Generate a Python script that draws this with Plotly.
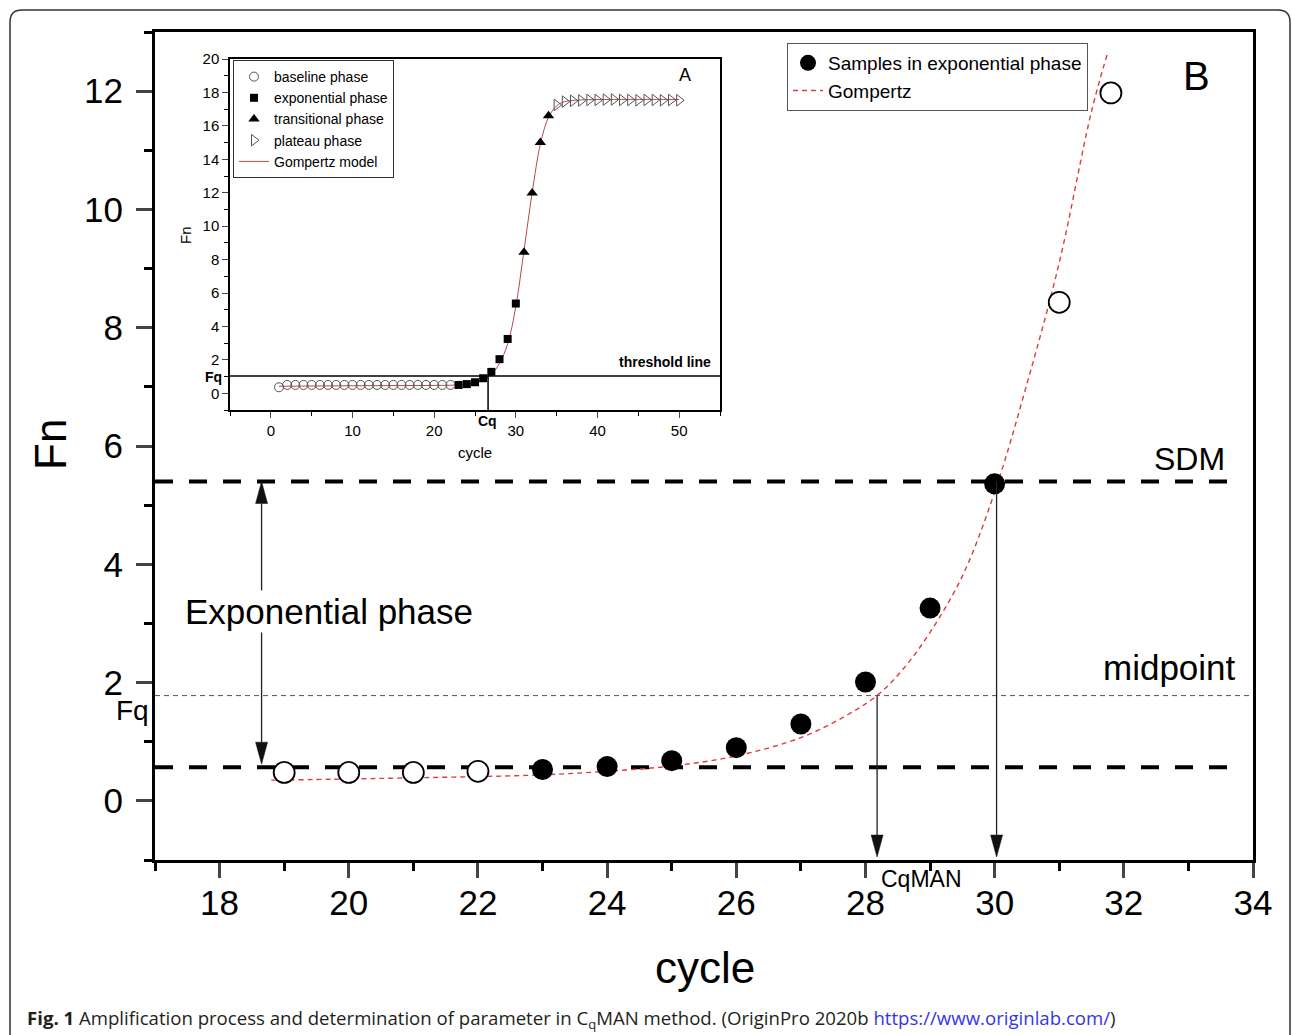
import plotly.graph_objects as go

W, H = 1292, 1035

# ---------------- main panel (B) data ----------------
base_x = [19, 20, 21, 22]
base_y = [0.48, 0.48, 0.48, 0.50]
exp_x = [23, 24, 25, 26, 27, 28, 29, 30]
exp_y = [0.53, 0.58, 0.68, 0.90, 1.30, 2.01, 3.26, 5.36]
late_x = [31, 31.8]
late_y = [8.43, 11.97]
gomp_x = [18.8, 20, 21, 22, 23, 24, 25, 26, 27, 27.7, 28.2, 28.6, 29.0, 29.5, 30.0, 30.5, 31.0, 31.5, 31.75]
gomp_y = [0.35, 0.37, 0.39, 0.41, 0.44, 0.50, 0.59, 0.76, 1.07, 1.44, 1.80, 2.25, 2.85, 3.8, 5.22, 7.05, 9.1, 11.66, 12.65]

SDM_LEVEL = 5.40
BASE_LEVEL = 0.57
MID_LEVEL = 1.78
CQMAN = 28.18
CYCLE_SDM = 30.03
EXP_ARROW_X = 18.65

main_xticks = [18, 20, 22, 24, 26, 28, 30, 32, 34]
main_xminor = [17, 19, 21, 23, 25, 27, 29, 31, 33]
main_yticks = [0, 2, 4, 6, 8, 10, 12]
main_yminor = [-1, 1, 3, 5, 7, 9, 11, 13]

# ---------------- inset panel (A) data ----------------
in_base_x = [1, 2, 3, 4, 5, 6, 7, 8, 9, 10, 11, 12, 13, 14, 15, 16, 17, 18, 19, 20, 21, 22]
in_base_y = [0.36, 0.50, 0.50, 0.50, 0.50, 0.50, 0.50, 0.50, 0.50, 0.50, 0.50,
             0.50, 0.50, 0.50, 0.50, 0.50, 0.50, 0.50, 0.50, 0.50, 0.50, 0.50]
in_exp_x = [23, 24, 25, 26, 27, 28, 29, 30]
in_exp_y = [0.50, 0.55, 0.66, 0.90, 1.28, 2.04, 3.25, 5.37]
in_tr_x = [31, 32, 33, 34]
in_tr_y = [8.44, 11.98, 15.0, 16.6]
in_pl_x = [35, 36, 37, 38, 39, 40, 41, 42, 43, 44, 45, 46, 47, 48, 49, 50]
in_pl_y = [17.25, 17.45, 17.50, 17.52, 17.55, 17.55, 17.57, 17.58, 17.55, 17.55,
           17.53, 17.55, 17.55, 17.53, 17.55, 17.53]
in_gomp_x = [1, 10, 20, 23, 25, 26, 27, 28, 29, 30, 31, 32, 33, 34, 35, 36, 38, 42, 50]
in_gomp_y = [0.42, 0.45, 0.47, 0.50, 0.60, 0.80, 1.12, 1.80, 2.95, 5.20, 8.55, 12.0,
             14.9, 16.5, 17.2, 17.45, 17.55, 17.58, 17.58]
THRESH = 1.04
CQ_INSET = 26.6

in_xticks = [0, 10, 20, 30, 40, 50]
in_xminor = [-5, 5, 15, 25, 35, 45, 55]
in_yticks = [0, 2, 4, 6, 8, 10, 12, 14, 16, 18, 20]
in_yminor = [-1, 1, 3, 5, 7, 9, 11, 13, 15, 17, 19]

FONT = "Liberation Sans, Arial, sans-serif"

# layout geometry (pixels -> paper)
def px(x):
    return x / W

def py(y):
    return 1 - y / H

MAIN_L, MAIN_R, MAIN_T, MAIN_B = 155, 1253, 32, 860
IN_L, IN_R, IN_T, IN_B = 230, 720, 59, 410
XR = [17, 34]
YR = [-1, 13]
IXR = [-5, 55]
IYR = [-1, 20]

ux = (XR[1] - XR[0]) / (MAIN_R - MAIN_L)   # data units per pixel
uy = (YR[1] - YR[0]) / (MAIN_B - MAIN_T)

fig = go.Figure()

# main traces
fig.add_trace(go.Scatter(x=gomp_x, y=gomp_y, mode="lines", name="Gompertz",
                         line=dict(color="#e03a3a", width=1.4, dash="5px,4px", shape="spline"),
                         legend="legend", legendrank=2, xaxis="x", yaxis="y"))
fig.add_trace(go.Scatter(x=base_x, y=base_y, mode="markers", showlegend=False,
                         marker=dict(symbol="circle", size=21, color="white",
                                     line=dict(color="black", width=1.8)),
                         xaxis="x", yaxis="y"))
fig.add_trace(go.Scatter(x=late_x, y=late_y, mode="markers", showlegend=False,
                         marker=dict(symbol="circle", size=21, color="white",
                                     line=dict(color="black", width=1.8)),
                         xaxis="x", yaxis="y"))
fig.add_trace(go.Scatter(x=exp_x, y=exp_y, mode="markers", name="Samples in exponential phase",
                         marker=dict(symbol="circle", size=21, color="black"),
                         legend="legend", legendrank=1, xaxis="x", yaxis="y"))

# inset traces
fig.add_trace(go.Scatter(x=in_gomp_x, y=in_gomp_y, mode="lines", name="Gompertz model",
                         line=dict(color="#b54a4a", width=1, shape="spline"),
                         legend="legend2", legendrank=5, xaxis="x2", yaxis="y2"))
fig.add_trace(go.Scatter(x=in_base_x, y=in_base_y, mode="markers", name="baseline phase",
                         marker=dict(symbol="circle-open", size=9, color="#555555", line=dict(width=1)),
                         legend="legend2", legendrank=1, xaxis="x2", yaxis="y2"))
fig.add_trace(go.Scatter(x=in_exp_x, y=in_exp_y, mode="markers", name="exponential phase",
                         marker=dict(symbol="square", size=8, color="black"),
                         legend="legend2", legendrank=2, xaxis="x2", yaxis="y2"))
fig.add_trace(go.Scatter(x=in_tr_x, y=in_tr_y, mode="markers", name="transitional phase",
                         marker=dict(symbol="triangle-up", size=10, color="black"),
                         legend="legend2", legendrank=3, xaxis="x2", yaxis="y2"))
fig.add_trace(go.Scatter(x=in_pl_x, y=in_pl_y, mode="markers", name="plateau phase",
                         marker=dict(symbol="triangle-right-open", size=10, color="#555555", line=dict(width=1)),
                         legend="legend2", legendrank=4, xaxis="x2", yaxis="y2"))

shapes = []

def hline(y, x0, x1, color, width, dash, xref="x", yref="y"):
    shapes.append(dict(type="line", xref=xref, yref=yref, x0=x0, x1=x1, y0=y, y1=y,
                       line=dict(color=color, width=width, dash=dash), layer="below"))

def arrow_head(x, tip, direction):
    # direction -1: pointing down, +1: pointing up
    L = 22 * uy
    hw = 6 * ux
    base = tip - direction * L
    path = f"M {x - hw},{base} L {x + hw},{base} L {x},{tip} Z"
    shapes.append(dict(type="path", xref="x", yref="y", path=path,
                       fillcolor="#111111", line=dict(color="#111111", width=0.5), layer="above"))
    return base

def varrow(x, y_from, y_to, both=False):
    b_end = arrow_head(x, y_to, -1 if y_to < y_from else 1)
    start = y_from
    if both:
        start = arrow_head(x, y_from, 1 if y_to < y_from else -1)
    shapes.append(dict(type="line", xref="x", yref="y", x0=x, x1=x, y0=start, y1=b_end,
                       line=dict(color="#222222", width=1.3), layer="above"))

hline(SDM_LEVEL, XR[0], 33.8, "black", 4, "18px,16px")
hline(BASE_LEVEL, XR[0], 33.67, "black", 4, "18px,16px")
hline(MID_LEVEL, XR[0], XR[1], "#555555", 1, "5px,4px")

varrow(EXP_ARROW_X, SDM_LEVEL, BASE_LEVEL + 0.05, both=True)
varrow(CQMAN, MID_LEVEL, YR[0] + 0.05)
varrow(CYCLE_SDM, SDM_LEVEL, YR[0] + 0.05)

# inset threshold lines
shapes.append(dict(type="line", xref="x2", yref="y2", x0=IXR[0], x1=IXR[1], y0=THRESH, y1=THRESH,
                   line=dict(color="black", width=1.5)))
shapes.append(dict(type="line", xref="x2", yref="y2", x0=CQ_INSET, x1=CQ_INSET, y0=IYR[0], y1=THRESH,
                   line=dict(color="black", width=1.5)))

# rounded outer border
r = 12
x0b, x1b, y0b, y1b = 10, 1290, 10, 1045
border = (f"M {px(x0b)},{py(y1b)} L {px(x0b)},{py(y0b + r)} "
          f"Q {px(x0b)},{py(y0b)} {px(x0b + r)},{py(y0b)} "
          f"L {px(x1b - r)},{py(y0b)} Q {px(x1b)},{py(y0b)} {px(x1b)},{py(y0b + r)} "
          f"L {px(x1b)},{py(y1b)}")
shapes.append(dict(type="path", xref="paper", yref="paper", path=border,
                   line=dict(color="#333333", width=1.5)))

annotations = []

def txt(text, x, y, size, xref="x", yref="y", xanchor="center", yanchor="middle", **kw):
    d = dict(text=text, x=x, y=y, xref=xref, yref=yref, showarrow=False,
             xanchor=xanchor, yanchor=yanchor, font=dict(family=FONT, size=size, color="black"))
    d.update(kw)
    annotations.append(d)

txt("SDM", 33.6, 5.78, 32, xanchor="right")
txt("midpoint", 33.77, 2.26, 35, xanchor="right")
txt("Exponential phase", 19.70, 3.21, 35, bgcolor="white")
txt("Fq", px(132), py(710), 28, xref="paper", yref="paper")
txt("CqMAN", px(879), py(879), 23, xref="paper", yref="paper", xanchor="left")
txt("B", 33.12, 12.25, 40)
txt("Fn", px(50), py(445), 44, xref="paper", yref="paper", textangle=-90)
txt("cycle", px(705), py(967), 44, xref="paper", yref="paper")

# inset annotations
txt("A", 50.7, 19.04, 18, xref="x2", yref="y2")
txt("<b>threshold line</b>", 54.2, 1.85, 14, xref="x2", yref="y2", xanchor="right")
txt("<b>Fq</b>", px(224), py(377), 14, xref="paper", yref="paper", xanchor="right")
txt("<b>Cq</b>", px(488), py(421), 14, xref="paper", yref="paper")
txt("Fn", px(185), py(235), 15, xref="paper", yref="paper", textangle=-90)
txt("cycle", px(475), py(452), 15, xref="paper", yref="paper")

# caption
annotations.append(dict(
    text="<b>Fig. 1</b> Amplification process and determination of parameter in C<sub>q</sub>MAN method. "
         "(OriginPro 2020b <span style='color:#3535e8'>https://www.originlab.com/</span>)",
    x=px(25), y=py(1019), xref="paper", yref="paper", showarrow=False,
    xanchor="left", yanchor="middle", font=dict(family="Open Sans, sans-serif", size=18.6, color="#231f20")))

axis_common = dict(showgrid=False, zeroline=False, showline=True, linecolor="black", mirror=True,
                   automargin=False)

fig.update_layout(
    width=W, height=H, margin=dict(l=0, r=0, t=0, b=0, autoexpand=False),
    paper_bgcolor="white", plot_bgcolor="white",
    font=dict(family=FONT, color="black"),
    xaxis=dict(domain=[px(MAIN_L), px(MAIN_R)], range=XR, anchor="y",
               tickvals=main_xticks, ticks="outside", ticklen=15, tickwidth=3, linewidth=3,
               tickfont=dict(size=35, family=FONT), ticklabelstandoff=-5,
               minor=dict(tickvals=main_xminor, ticks="outside", ticklen=8, tickwidth=3, tickcolor="black"),
               **axis_common),
    yaxis=dict(domain=[py(MAIN_B), py(MAIN_T)], range=YR, anchor="x",
               tickvals=main_yticks, ticks="outside", ticklen=16, tickwidth=3, linewidth=3,
               tickfont=dict(size=35, family=FONT), ticklabelstandoff=6,
               minor=dict(tickvals=main_yminor, ticks="outside", ticklen=8, tickwidth=3, tickcolor="black"),
               **axis_common),
    xaxis2=dict(domain=[px(IN_L), px(IN_R)], range=IXR, anchor="y2",
                tickvals=in_xticks, ticks="outside", ticklen=6, tickwidth=1.2, linewidth=1.5,
                tickfont=dict(size=15, family=FONT),
                minor=dict(tickvals=in_xminor, ticks="outside", ticklen=4, tickwidth=1.2, tickcolor="black"),
                **axis_common),
    yaxis2=dict(domain=[py(IN_B), py(IN_T)], range=IYR, anchor="x2",
                tickvals=in_yticks, ticks="outside", ticklen=6, tickwidth=1.2, linewidth=1.5,
                tickfont=dict(size=15, family=FONT),
                minor=dict(tickvals=in_yminor, ticks="outside", ticklen=4, tickwidth=1.2, tickcolor="black"),
                **axis_common),
    legend=dict(x=px(787), y=py(43), xanchor="left", yanchor="top", bgcolor="white",
                bordercolor="#555555", borderwidth=1, font=dict(size=19, family=FONT),
                tracegroupgap=0),
    legend2=dict(x=px(233), y=py(60), xanchor="left", yanchor="top", bgcolor="white",
                 bordercolor="#333333", borderwidth=1, font=dict(size=14, family=FONT),
                 tracegroupgap=0),
    shapes=shapes, annotations=annotations, showlegend=True,
)

fig.write_html("out.html")
